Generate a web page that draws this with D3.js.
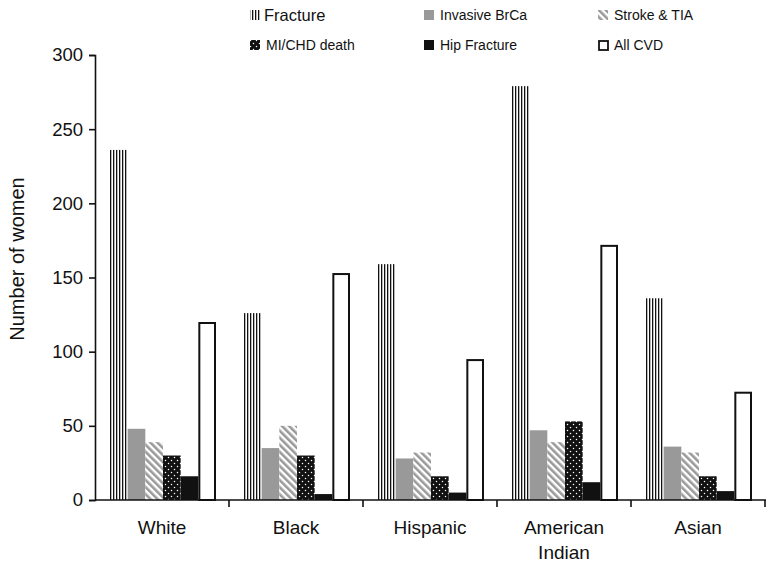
<!DOCTYPE html>
<html><head><meta charset="utf-8">
<script src="https://cdn.jsdelivr.net/npm/d3@7"></script>
<style>body{margin:0;background:#fff}svg{display:block;font-family:"Liberation Sans",Arial,Helvetica,sans-serif}</style>
</head><body><svg id="c" width="768" height="563"></svg>
<script>
const categories = ["White","Black","Hispanic","American Indian","Asian"];
const seriesNames = ["Fracture","Invasive BrCa","Stroke & TIA","MI/CHD death","Hip Fracture","All CVD"];
const fracture   = [236,126,159,279,136];
const invasive   = [48,35,28,47,36];
const stroke     = [39,50,32,39,32];
const mi         = [30,30,16,53,16];
const hip        = [16,4,5,12,6];
const allCvd     = [120,153,95,172,73];
const yTicks = [0,50,100,150,200,250,300];
const seriesValues = [fracture,invasive,stroke,mi,hip,allCvd];

const svg = d3.select("#c");
const defs = svg.append("defs");
// fracture: vertical lines
const p1 = defs.append("pattern").attr("id","pFr").attr("patternUnits","userSpaceOnUse").attr("width",3).attr("height",4);
p1.append("rect").attr("width",3).attr("height",4).attr("fill","#fff");
p1.append("rect").attr("x",0).attr("width",1.3).attr("height",4).attr("fill","#111");
// stroke: diagonal stripes
const p2 = defs.append("pattern").attr("id","pSt").attr("patternUnits","userSpaceOnUse").attr("width",5).attr("height",5).attr("patternTransform","rotate(-45)");
p2.append("rect").attr("width",5).attr("height",5).attr("fill","#fff");
p2.append("rect").attr("width",2.6).attr("height",5).attr("fill","#9a9a9a");
// MI: black with white dots
const p3 = defs.append("pattern").attr("id","pMi").attr("patternUnits","userSpaceOnUse").attr("width",6).attr("height",6);
p3.append("rect").attr("width",6).attr("height",6).attr("fill","#111");
p3.append("circle").attr("cx",1.5).attr("cy",1.5).attr("r",0.75).attr("fill","#fff");
p3.append("circle").attr("cx",4.5).attr("cy",4.5).attr("r",0.75).attr("fill","#fff");

const fills = ["url(#pFr)","#999999","url(#pSt)","url(#pMi)","#111111","#ffffff"];
const strokes = [null,null,null,null,null,"#111"];

const x0 = d3.scaleBand().domain(categories).range([95,765]).paddingInner(0).paddingOuter(0);
const x1 = d3.scaleBand().domain(seriesNames).range([15,121]).paddingInner(0);
const y = d3.scaleLinear().domain([0,300]).range([500,55]);

const groups = svg.append("g").selectAll("g").data(categories).join("g")
  .attr("transform",d=>`translate(${x0(d)},0)`);
groups.each(function(cat,ci){
  const g = d3.select(this);
  seriesNames.forEach((s,si)=>{
    const v = seriesValues[si][ci];
    const r = g.append("rect")
      .attr("x",x1(s)).attr("width",x1.bandwidth())
      .attr("y",y(v)).attr("height",y(0)-y(v))
      .attr("fill",fills[si]);
    if(strokes[si]){
      r.attr("x",x1(s)+1).attr("width",x1.bandwidth()-2).attr("y",y(v)+1).attr("height",y(0)-y(v)-1)
       .attr("stroke",strokes[si]).attr("stroke-width",2);
    }
  });
});

// y axis
const yAxis = svg.append("g").attr("transform","translate(95,0)")
  .call(d3.axisLeft(y).tickValues(yTicks).tickSize(6).tickPadding(6));
yAxis.select(".domain").attr("stroke","#111").attr("stroke-width",1.6);
yAxis.selectAll(".tick line").attr("stroke","#111").attr("stroke-width",1.6);
yAxis.selectAll("text").attr("font-size",18.5).attr("fill","#111");

// x axis
const xAxisG = svg.append("g").attr("transform","translate(0,500)");
xAxisG.append("line").attr("x1",95).attr("x2",766).attr("stroke","#111").attr("stroke-width",1.6);
xAxisG.selectAll("line.tk").data(categories).join("line").attr("class","tk")
  .attr("x1",d=>x0(d)+x0.bandwidth()).attr("x2",d=>x0(d)+x0.bandwidth())
  .attr("y1",0).attr("y2",7).attr("stroke","#111").attr("stroke-width",1.6);
xAxisG.selectAll("text").data(categories).join("text")
  .attr("x",d=>x0(d)+x0.bandwidth()/2).attr("y",34)
  .attr("text-anchor","middle").attr("font-size",19).attr("fill","#111")
  .each(function(d){
    const words = d === "American Indian" ? ["American","Indian"] : [d];
    d3.select(this).selectAll("tspan").data(words).join("tspan")
      .attr("x",x0(d)+x0.bandwidth()/2).attr("dy",(w,i)=>i?25:0).text(w=>w);
  });

// y title
svg.append("text").attr("transform","translate(24,259) rotate(-90)")
  .attr("text-anchor","middle").attr("font-size",20).attr("fill","#111").text("Number of women");

// legend
const legPos = [[250,15],[424,15],[598,15],[250,45],[424,45],[598,45]];
const leg = svg.append("g");
seriesNames.forEach((s,i)=>{
  const [lx,ly] = legPos[i];
  const sw = leg.append("rect").attr("x",lx).attr("y",ly-5).attr("width",10).attr("height",10).attr("fill",fills[i]);
  if(strokes[i]) sw.attr("x",lx+1).attr("y",ly-4).attr("width",9).attr("height",9).attr("stroke","#111").attr("stroke-width",1.8);
  leg.append("text").attr("x",lx+(i===0?14:16)).attr("y",ly).attr("dy","0.35em")
    .attr("font-size",i===0?16.5:14).attr("fill","#111").text(s);
});
</script></body></html>
